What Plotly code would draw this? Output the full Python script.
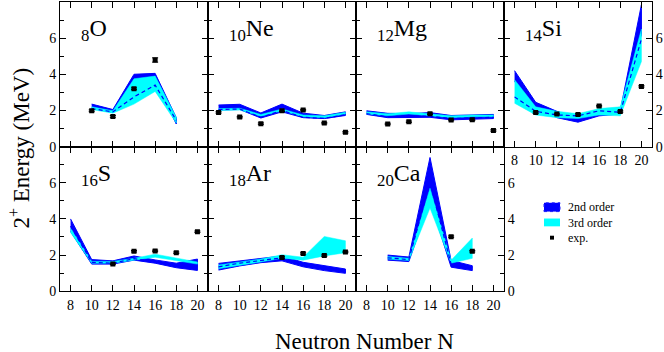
import plotly.graph_objects as go

# ---------------- data ----------------
N_TICKS = [8, 10, 12, 14, 16, 18, 20]
E_TICKS = [0, 2, 4, 6]
E_MINOR = [1, 3, 5, 7]

# 8O
o_n = [10, 12, 14, 16, 18]
o_2lo = [2.12, 1.88, 3.30, 3.60, 1.25]
o_2hi = [2.35, 2.05, 4.00, 4.05, 1.60]
o_3lo = [2.05, 1.85, 2.35, 3.05, 1.30]
o_3hi = [2.20, 1.98, 3.75, 3.90, 1.62]
o_mid = [2.10, 1.92, 2.75, 3.40, 1.45]
o_exp_n = [10, 12, 14, 16]
o_exp_e = [1.98, 1.67, 3.20, 4.79]
o_exp_err = [0.05, 0.05, 0.05, 0.12]

# 10Ne
ne_n = [8, 10, 12, 14, 16, 18, 20]
ne_2lo = [2.02, 2.05, 1.58, 1.92, 1.60, 1.55, 1.72]
ne_2hi = [2.30, 2.34, 1.86, 2.35, 1.85, 1.72, 1.92]
ne_3lo = [2.00, 2.02, 1.68, 1.98, 1.65, 1.60, 1.80]
ne_3hi = [2.10, 2.12, 1.78, 2.08, 1.75, 1.70, 1.90]
ne_mid = [2.05, 2.08, 1.62, 2.00, 1.62, 1.56, 1.76]
ne_exp_n = [8, 10, 12, 14, 16, 18, 20]
ne_exp_e = [1.89, 1.63, 1.27, 1.98, 2.02, 1.30, 0.79]
ne_exp_err = [0.04] * 7

# 12Mg
mg_n = [8, 10, 12, 14, 16, 18, 20]
mg_2lo = [1.78, 1.60, 1.63, 1.62, 1.48, 1.52, 1.55]
mg_2hi = [1.98, 1.84, 1.82, 1.88, 1.72, 1.75, 1.78]
mg_3lo = [1.80, 1.70, 1.80, 1.70, 1.60, 1.65, 1.65]
mg_3hi = [1.92, 1.82, 1.92, 1.80, 1.70, 1.75, 1.75]
mg_mid = [1.82, 1.65, 1.70, 1.68, 1.55, 1.60, 1.62]
mg_exp_n = [10, 12, 14, 16, 18, 20]
mg_exp_e = [1.25, 1.37, 1.81, 1.47, 1.48, 0.89]
mg_exp_err = [0.04] * 6

# 14Si
si_n = [8, 10, 12, 14, 16, 18, 20]
si_2lo = [3.60, 2.15, 1.60, 1.35, 1.70, 1.80, 6.20]
si_2hi = [4.20, 2.45, 1.95, 1.55, 1.85, 2.00, 7.85]
si_3lo = [2.40, 1.75, 1.60, 1.55, 1.75, 1.70, 4.70]
si_3hi = [3.70, 2.20, 1.95, 1.82, 2.10, 2.20, 6.50]
si_mid = [2.75, 1.95, 1.75, 1.70, 1.98, 1.90, 5.95]
si_exp_n = [10, 12, 14, 16, 18, 20]
si_exp_e = [1.88, 1.80, 1.78, 2.24, 1.94, 3.33]
si_exp_err = [0.04] * 6

# 16S
s_n = [8, 10, 12, 14, 16, 18, 20]
s_2lo = [3.30, 1.50, 1.50, 1.72, 1.55, 1.30, 1.15]
s_2hi = [4.00, 1.75, 1.68, 1.95, 1.73, 1.55, 1.78]
s_3lo = [3.25, 1.55, 1.55, 1.72, 1.88, 1.68, 1.50]
s_3hi = [3.50, 1.65, 1.65, 1.82, 2.05, 1.85, 1.62]
s_mid = [3.60, 1.60, 1.55, 1.80, 1.65, 1.45, 1.40]
s_exp_n = [12, 14, 16, 18, 20]
s_exp_e = [1.51, 2.21, 2.23, 2.13, 3.29]
s_exp_err = [0.04] * 5

# 18Ar
ar_n = [8, 10, 12, 14, 16, 18, 20]
ar_2lo = [1.17, 1.40, 1.58, 1.68, 1.35, 1.14, 0.99]
ar_2hi = [1.54, 1.68, 1.80, 1.95, 1.60, 1.41, 1.23]
ar_3lo = [1.25, 1.45, 1.62, 1.82, 1.72, 1.95, 2.13]
ar_3hi = [1.45, 1.62, 1.78, 2.02, 1.88, 3.03, 2.79]
ar_mid = [1.35, 1.55, 1.70, 1.85, 1.50, 1.30, 1.10]
ar_exp_n = [14, 16, 18, 20]
ar_exp_e = [1.87, 2.09, 1.97, 2.17]
ar_exp_err = [0.04] * 4

# 20Ca
ca_n = [10, 12, 14, 16, 18]
ca_2lo = [1.72, 1.64, 5.00, 1.33, 1.14]
ca_2hi = [2.00, 1.89, 7.40, 1.70, 1.41]
ca_3lo = [1.78, 1.70, 4.60, 1.55, 1.82]
ca_3hi = [1.92, 1.82, 5.70, 1.72, 2.94]
ca_mid = [1.85, 1.75, 6.00, 1.50, 1.30]
ca_exp_n = [16, 18]
ca_exp_e = [3.02, 2.21]
ca_exp_err = [0.04, 0.04]

# ---------------- panel table ----------------
panels = [
    dict(sym="O", z="8", row=0, col=0, n=o_n, lo2=o_2lo, hi2=o_2hi, lo3=o_3lo, hi3=o_3hi, mid=o_mid,
         en=o_exp_n, ee=o_exp_e, er=o_exp_err, ylab="left", xlab=False),
    dict(sym="Ne", z="10", row=0, col=1, n=ne_n, lo2=ne_2lo, hi2=ne_2hi, lo3=ne_3lo, hi3=ne_3hi, mid=ne_mid,
         en=ne_exp_n, ee=ne_exp_e, er=ne_exp_err, ylab=None, xlab=False),
    dict(sym="Mg", z="12", row=0, col=2, n=mg_n, lo2=mg_2lo, hi2=mg_2hi, lo3=mg_3lo, hi3=mg_3hi, mid=mg_mid,
         en=mg_exp_n, ee=mg_exp_e, er=mg_exp_err, ylab=None, xlab=False),
    dict(sym="Si", z="14", row=0, col=3, n=si_n, lo2=si_2lo, hi2=si_2hi, lo3=si_3lo, hi3=si_3hi, mid=si_mid,
         en=si_exp_n, ee=si_exp_e, er=si_exp_err, ylab="right", xlab=True),
    dict(sym="S", z="16", row=1, col=0, n=s_n, lo2=s_2lo, hi2=s_2hi, lo3=s_3lo, hi3=s_3hi, mid=s_mid,
         en=s_exp_n, ee=s_exp_e, er=s_exp_err, ylab="left", xlab=True),
    dict(sym="Ar", z="18", row=1, col=1, n=ar_n, lo2=ar_2lo, hi2=ar_2hi, lo3=ar_3lo, hi3=ar_3hi, mid=ar_mid,
         en=ar_exp_n, ee=ar_exp_e, er=ar_exp_err, ylab=None, xlab=True),
    dict(sym="Ca", z="20", row=1, col=2, n=ca_n, lo2=ca_2lo, hi2=ca_2hi, lo3=ca_3lo, hi3=ca_3hi, mid=ca_mid,
         en=ca_exp_n, ee=ca_exp_e, er=ca_exp_err, ylab="right", xlab=True),
]

W, H = 664, 352
COL_EDGES = [60, 208, 356, 504, 652]
ROW_EDGES = [(2, 150), (150, 298)]
FONT = "Liberation Serif"
BLUE = "#0000ff"
CYAN = "#00ffff"

fig = go.Figure()
layout = dict(
    width=W, height=H, autosize=False,
    margin=dict(l=0, r=0, t=0, b=0),
    paper_bgcolor="white", plot_bgcolor="white",
    showlegend=False,
    font=dict(family=FONT, size=14, color="black"),
)
annotations = []

for i, p in enumerate(panels):
    k = "" if i == 0 else str(i + 1)
    xa, ya = "x" + k, "y" + k
    n = p["n"]
    # 2nd order band
    fig.add_trace(go.Scatter(
        x=n + n[::-1], y=p["hi2"] + p["lo2"][::-1], xaxis=xa, yaxis=ya,
        mode="lines", fill="toself", fillcolor=BLUE,
        line=dict(color=BLUE, width=1), hoverinfo="skip"))
    # 3rd order band
    fig.add_trace(go.Scatter(
        x=n + n[::-1], y=p["hi3"] + p["lo3"][::-1], xaxis=xa, yaxis=ya,
        mode="lines", fill="toself", fillcolor=CYAN,
        line=dict(color=CYAN, width=0.5), hoverinfo="skip"))
    # dashed central line
    fig.add_trace(go.Scatter(
        x=n, y=p["mid"], xaxis=xa, yaxis=ya, mode="lines",
        line=dict(color=BLUE, width=1.2, dash="4px,3px"), hoverinfo="skip"))
    # experiment
    fig.add_trace(go.Scatter(
        x=p["en"], y=p["ee"], xaxis=xa, yaxis=ya, mode="markers",
        marker=dict(symbol="square", size=5, color="black"),
        error_y=dict(type="data", array=p["er"], color="black", thickness=1, width=3)))

    x0, x1 = COL_EDGES[p["col"]], COL_EDGES[p["col"] + 1]
    top, bot = ROW_EDGES[p["row"]]
    layout["xaxis" + k] = dict(
        domain=[x0 / W, x1 / W], anchor=ya, range=[7, 21],
        tickmode="array", tickvals=N_TICKS, ticks="inside", ticklen=6,
        tickwidth=1, tickcolor="black", ticklabelstandoff=1,
        showline=True, linecolor="black", linewidth=1, mirror="ticks",
        showgrid=False, zeroline=False, showticklabels=p["xlab"],
        tickfont=dict(family=FONT, size=14, color="black"),
    )
    yax = dict(
        domain=[1 - bot / H, 1 - top / H], anchor=xa, range=[0, 8],
        tickmode="array", tickvals=E_TICKS, ticks="inside", ticklen=6,
        tickwidth=1, tickcolor="black",
        minor=dict(tickmode="array", tickvals=E_MINOR, ticks="inside", ticklen=4,
                   tickcolor="black", showgrid=False),
        showline=True, linecolor="black", linewidth=1, mirror="ticks",
        showgrid=False, zeroline=False, showticklabels=p["ylab"] is not None,
        tickfont=dict(family=FONT, size=14, color="black"),
    )
    if p["ylab"] == "right":
        yax["side"] = "right"
    layout["yaxis" + k] = yax

    annotations.append(dict(
        xref=xa, yref=ya, x=8.75, y=6.45, xanchor="left", yanchor="middle",
        text="<sub>%s</sub>%s" % (p["z"], p["sym"]), showarrow=False,
        font=dict(family=FONT, size=24, color="black")))

# axis titles
annotations.append(dict(
    xref="paper", yref="paper", x=365 / W, y=1 - 349 / H, xanchor="center", yanchor="middle",
    text="Neutron Number N", showarrow=False, font=dict(family=FONT, size=23, color="black")))
annotations.append(dict(
    xref="paper", yref="paper", x=20 / W, y=1 - 152 / H, xanchor="center", yanchor="middle",
    text="2<sup>+</sup> Energy (MeV)", textangle=-90, showarrow=False,
    font=dict(family=FONT, size=23, color="black")))

# legend (drawn in the empty bottom-right cell)
legend_text = "2nd order<br>3rd order<br>exp."
LEG_FS = 12
LEG_LINE = 1.3 * LEG_FS
leg_y0 = 212.0
leg_rows = [leg_y0 + j * LEG_LINE for j in range(3)]
shapes = [
    dict(type="rect", xref="paper", yref="paper", x0=544 / W, x1=560 / W,
         y0=1 - (leg_rows[0] + 4.5) / H, y1=1 - (leg_rows[0] - 4.5) / H, fillcolor=BLUE,
         line=dict(color="#2020ff", width=1, dash="dot")),
    dict(type="rect", xref="paper", yref="paper", x0=544 / W, x1=560 / W,
         y0=1 - (leg_rows[1] + 4) / H, y1=1 - (leg_rows[1] - 4) / H, fillcolor=CYAN, line=dict(width=0)),
    dict(type="rect", xref="paper", yref="paper", x0=550 / W, x1=554 / W,
         y0=1 - (leg_rows[2] + 2) / H, y1=1 - (leg_rows[2] - 2) / H, fillcolor="black", line=dict(width=0)),
]
annotations.append(dict(
    xref="paper", yref="paper", x=566 / W, y=1 - leg_rows[1] / H, xanchor="left", yanchor="middle",
    text=legend_text, align="left", showarrow=False,
    font=dict(family=FONT, size=LEG_FS, color="black")))

layout["annotations"] = annotations
layout["shapes"] = shapes
fig.update_layout(**layout)

# the page's default 8px body margin would shift the 664x352 figure inside the window
fig.write_html(
    "out.html",
    config={"displayModeBar": False},
    post_script="document.body.style.margin='0px';document.body.style.overflow='hidden';",
)
